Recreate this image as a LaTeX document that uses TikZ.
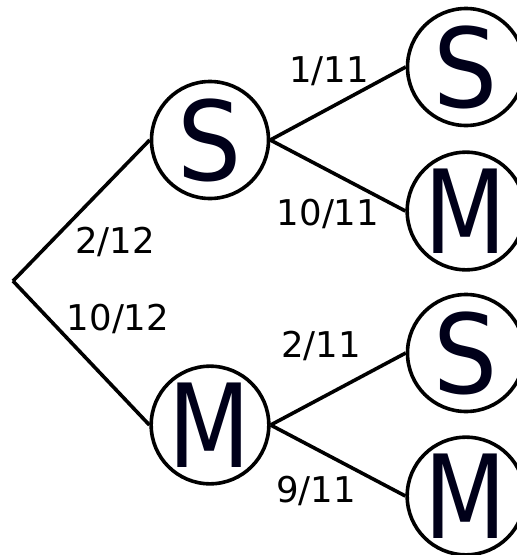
\documentclass[tikz,border=0pt]{standalone}
\usepackage{fontspec}
\setmainfont{DejaVu Sans}
\begin{document}
\begin{tikzpicture}[x=1pt,y=-1pt,
  state/.style={draw, circle, line width=3.6pt, minimum size=117pt, inner sep=0pt,
    text=black!90!blue, font=\fontsize{110}{110}\selectfont},
  bigm/.style={font=\fontsize{116}{116}\selectfont},
  edge/.style={line width=3.6pt},
  prob/.style={inner sep=0pt, font=\fontsize{35.5}{36}\selectfont}]
\useasboundingbox (0,0) rectangle (517,555);
\clip (0,0) rectangle (517,555);
\coordinate (r) at (13,281);
\node[state] (s1) at (210,140) {\scalebox{0.92}[1]{S}};
\node[state,bigm] (m1) at (210,425) {\scalebox{0.82}[1]{M}};
\node[state] (ss) at (466,67) {\scalebox{0.92}[1]{S}};
\node[state,bigm] (sm) at (466,211) {\scalebox{0.82}[1]{M}};
\node[state] (ms) at (466,353) {\scalebox{0.92}[1]{S}};
\node[state,bigm] (mm) at (466,496) {\scalebox{0.82}[1]{M}};
\draw[edge] (r) -- (s1.west);
\draw[edge] (r) -- (m1.west);
\draw[edge] (s1.east) -- (ss.west);
\draw[edge] (s1.east) -- (sm.west);
\draw[edge] (m1.east) -- (ms.west);
\draw[edge] (m1.east) -- (mm.west);
\node[prob] (l1) at (329,71) {1/11};
\node[prob] (l2) at (328,214) {10/11};
\node[prob] (l3) at (115,242) {2/12};
\node[prob] (l4) at (118,319) {10/12};
\node[prob] (l5) at (321,346) {2/11};
\node[prob] (l6) at (316,491) {9/11};
\end{tikzpicture}
\end{document}
